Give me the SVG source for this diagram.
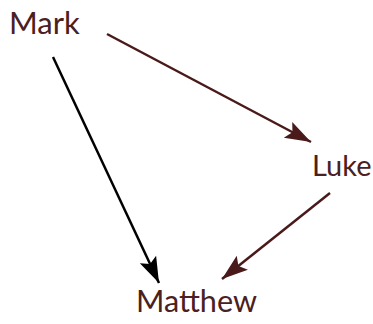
<svg xmlns="http://www.w3.org/2000/svg" width="373" height="324" viewBox="0 0 373 324">
<style>
.lbl{font-family:Lato,"Open Sans","Liberation Sans",sans-serif;font-size:31px;fill:#4a2020}
.e{fill:none;stroke-width:2.5}
</style>
<defs>
<marker id="ab" markerUnits="userSpaceOnUse" markerWidth="28" markerHeight="20" refX="26" refY="10" orient="auto" viewBox="0 0 28 20"><path d="M0,1 L26,10 L0,19 L5,10 z" fill="#4a1a1a"/></marker>
<marker id="ak" markerUnits="userSpaceOnUse" markerWidth="28" markerHeight="20" refX="26" refY="10" orient="auto" viewBox="0 0 28 20"><path d="M0,1 L26,10 L0,19 L5,10 z" fill="#000"/></marker>
</defs>
<rect width="373" height="324" fill="#fff"/>
<g id="connectors">
<line class="e" x1="107" y1="34" x2="311" y2="142" stroke="#4a1a1a" marker-end="url(#ab)"/>
<line class="e" x1="53" y1="57" x2="159" y2="283" stroke="#000" marker-end="url(#ak)"/>
<line class="e" x1="330" y1="193" x2="222" y2="279" stroke="#4a1a1a" marker-end="url(#ab)"/>
</g>
<g id="mark"><text class="lbl" x="9" y="34">Mark</text></g>
<g id="luke"><text class="lbl" x="312" y="176" style="font-size:29px">Luke</text></g>
<g id="matthew"><text class="lbl" x="136" y="312" textLength="121" lengthAdjust="spacingAndGlyphs">Matthew</text></g>
</svg>
